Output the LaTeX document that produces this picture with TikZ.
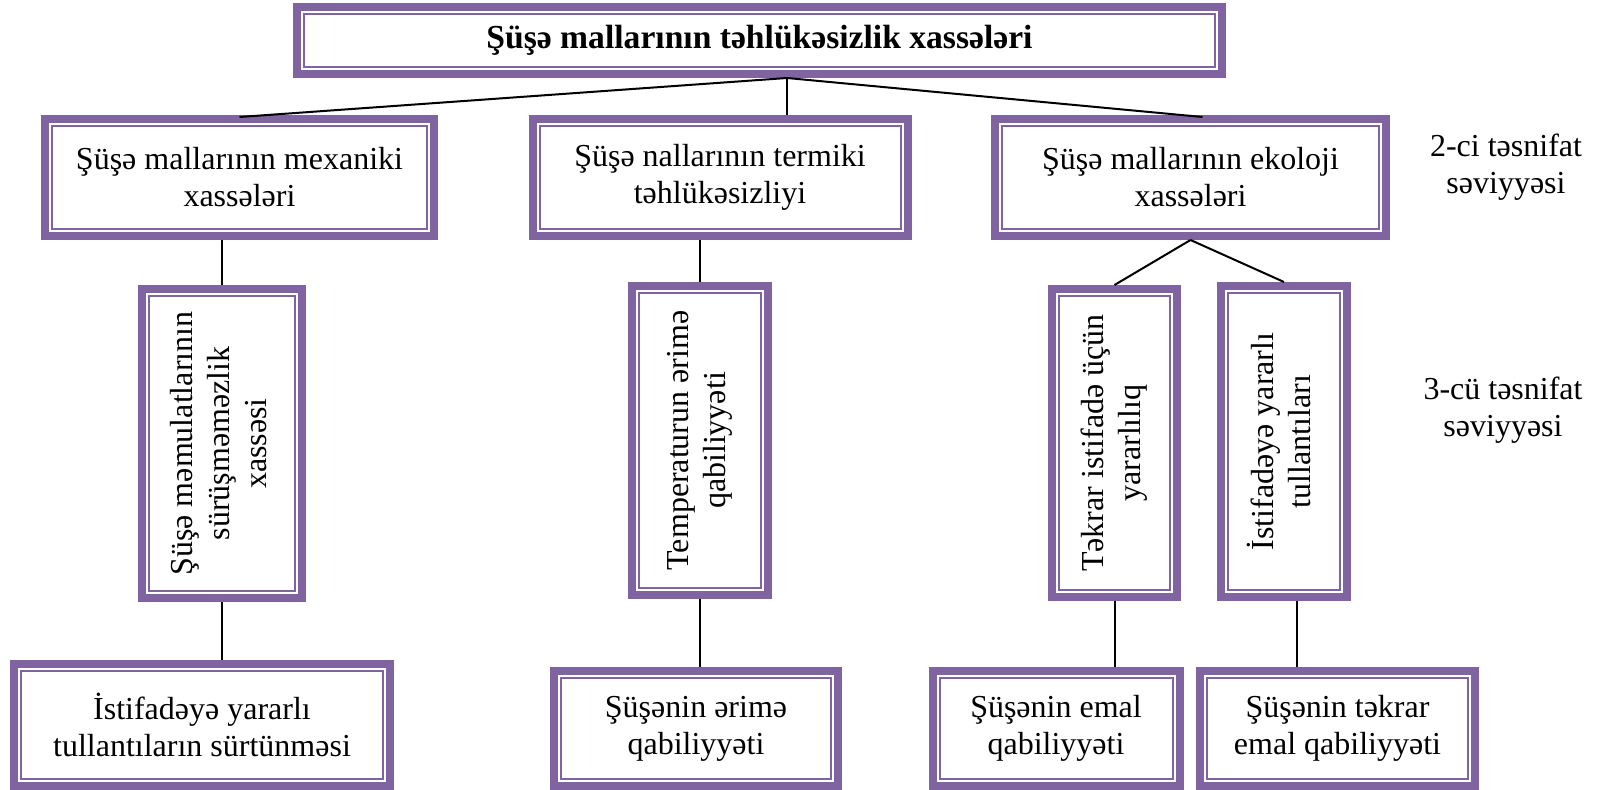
\documentclass[tikz,border=0pt]{standalone}
\usepackage{fontspec}
\setmainfont{Liberation Serif}
\definecolor{framepurple}{RGB}{128,100,162}
\newcommand{\vtext}[1]{\rotatebox{90}{\begin{tabular}{@{}c@{}}#1\end{tabular}}}
\tikzset{
  box/.style={draw=framepurple, line width=4pt, fill=white, align=center, inner sep=2pt,
    font=\fontsize{16}{18.5}\selectfont,
    path picture={\draw[framepurple, line width=1pt]
      ([shift={(3.5pt,3.5pt)}]path picture bounding box.south west) rectangle
      ([shift={(-3.5pt,-3.5pt)}]path picture bounding box.north east);}},
  link/.style={draw=black, line width=1pt},
  levellabel/.style={align=center, font=\fontsize{16}{18.5}\selectfont}
}

\begin{document}
\begin{tikzpicture}[x=0.5pt, y=-0.5pt]
    \useasboundingbox (0,0) rectangle (1598,790);

    \node[box, minimum width=462.5pt, minimum height=33.5pt, font=\fontsize{16.8}{19}\selectfont\bfseries] (top) at (759.5,40.5) {Şüşə mallarının təhlükəsizlik xassələri};

    \node[box, minimum width=194.5pt, minimum height=58.5pt] (l2a) at (239.5,177.5) {Şüşə mallarının mexaniki\\ xassələri};
    \node[box, minimum width=187.5pt, minimum height=58.5pt] (l2b) at (720,177.5) {Şüşə nallarının termiki\\ təhlükəsizliyi};
    \node[box, minimum width=195.5pt, minimum height=58.5pt] (l2c) at (1190.5,177.5) {Şüşə mallarının ekoloji\\ xassələri};

    \node[box, minimum width=80pt, minimum height=154.5pt] (l3a) at (222,443.5) {\vtext{Şüşə məmulatlarının\\ sürüşməməzlik\\ xassəsi}};
    \node[box, minimum width=68pt, minimum height=154.5pt] (l3b) at (700,440.5) {\vtext{Temperaturun ərimə\\ qabiliyyəti}};
    \node[box, minimum width=62.5pt, minimum height=154pt] (l3c) at (1114.5,443) {\vtext{Təkrar istifadə üçün\\ yararlılıq}};
    \node[box, minimum width=63pt, minimum height=155.5pt] (l3d) at (1284,441.5) {\vtext{İstifadəyə yararlı\\ tullantıları}};

    \node[box, minimum width=188pt, minimum height=61pt] (l4a) at (202,725) {İstifadəyə yararlı\\ tullantıların sürtünməsi};
    \node[box, minimum width=142pt, minimum height=57.5pt] (l4b) at (696,728.5) {Şüşənin ərimə\\ qabiliyyəti};
    \node[box, minimum width=123.5pt, minimum height=57.5pt] (l4c) at (1056,728.5) {Şüşənin emal\\ qabiliyyəti};
    \node[box, minimum width=137.5pt, minimum height=57.5pt] (l4d) at (1337.5,728.5) {Şüşənin təkrar\\ emal qabiliyyəti};

    \node[levellabel] (lvl2) at (1506,167) {2-ci təsnifat\\ səviyyəsi};
    \node[levellabel] (lvl3) at (1503,410) {3-cü təsnifat\\ səviyyəsi};

    \coordinate (hub) at ([xshift=13.75pt]top.south);

    \draw[link] (hub) -- ([yshift=-1pt]l2a.north);
    \draw[link] (hub) -- (hub |- l2b.north);
    \draw[link] (hub) -- ([xshift=6pt,yshift=-1pt]l2c.north);

    \draw[link] (l3a.north |- l2a.south) -- (l3a.north);
    \draw[link] (l3b.north |- l2b.south) -- (l3b.north);
    \draw[link] (l2c.south) -- (l3c.north);
    \draw[link] (l2c.south) -- (l3d.north);

    \draw[link] (l3a.south) -- (l3a.south |- l4a.north);
    \draw[link] (l3b.south) -- (l3b.south |- l4b.north);
    \draw[link] (l3c.south) -- (l3c.south |- l4c.north);
    \draw[link] ([xshift=6.5pt]l3d.south) -- ([xshift=6.5pt]l3d.south |- l4d.north);
\end{tikzpicture}
\end{document}
